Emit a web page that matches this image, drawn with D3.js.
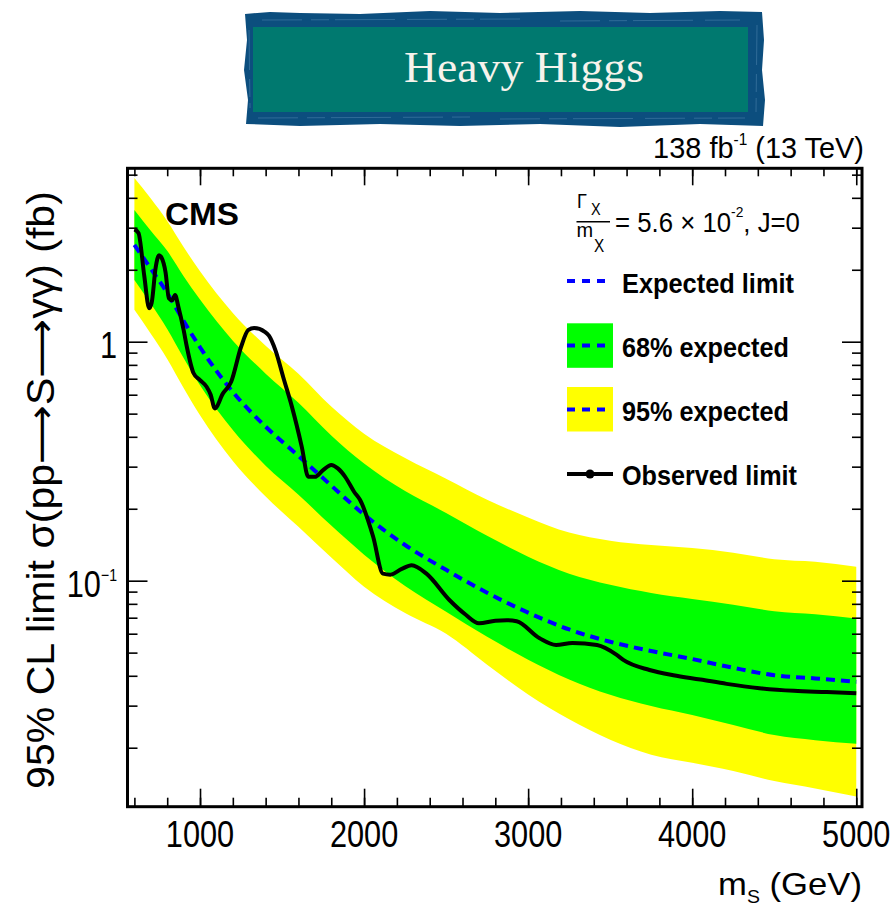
<!DOCTYPE html>
<html>
<head>
<meta charset="utf-8">
<script src="https://cdn.jsdelivr.net/npm/d3@7"></script>
<style>
  html, body { margin: 0; padding: 0; background: #ffffff; }
  svg { display: block; }
</style>
</head>
<body>
<svg id="chart" width="891" height="909"></svg>
<script>
// ---- Expected limit and its 68% / 95% bands (fb), by resonance mass (GeV)
const massPoints    = [600, 700, 800, 900, 1000, 1200, 1400, 1600, 1800, 2000, 2250, 2500, 2750, 3000, 3250, 3500, 3750, 4000, 4250, 4500, 4750, 5000];
const expectedLimit = [2.54, 2.02, 1.60, 1.22, 0.948, 0.616, 0.441, 0.333, 0.250, 0.189, 0.141, 0.111, 0.089, 0.0735, 0.0625, 0.0555, 0.0508, 0.0470, 0.0432, 0.0402, 0.0390, 0.0378];
const band68Upper   = [3.56, 2.91, 2.40, 1.88, 1.50, 1.01, 0.735, 0.555, 0.405, 0.309, 0.237, 0.192, 0.154, 0.126, 0.107, 0.0961, 0.0888, 0.0838, 0.0793, 0.0745, 0.0723, 0.0694];
const band68Lower   = [1.81, 1.44, 1.13, 0.854, 0.657, 0.427, 0.303, 0.229, 0.170, 0.1285, 0.0950, 0.0741, 0.0582, 0.0467, 0.0386, 0.0333, 0.0299, 0.0274, 0.0249, 0.0226, 0.0215, 0.0208];
const band95Upper   = [4.84, 3.97, 3.20, 2.49, 1.97, 1.32, 0.962, 0.734, 0.535, 0.412, 0.326, 0.267, 0.218, 0.184, 0.159, 0.147, 0.141, 0.137, 0.131, 0.123, 0.120, 0.1145];
const band95Lower   = [1.36, 1.08, 0.847, 0.640, 0.492, 0.317, 0.225, 0.168, 0.125, 0.0944, 0.0732, 0.0599, 0.0445, 0.0334, 0.0263, 0.0216, 0.0187, 0.0173, 0.0160, 0.0145, 0.0135, 0.0125];

// ---- Observed limit (fb)
const observedMass  = [600, 625, 660, 690, 705, 730, 750, 765, 790, 810, 830, 848, 868, 900, 920, 960, 1000, 1040, 1065, 1090, 1140, 1190, 1250, 1295, 1330, 1395, 1420, 1460, 1510, 1560, 1620, 1660, 1700, 1750, 1800, 1840, 1885, 1940, 1975, 2055, 2115, 2160, 2230, 2290, 2380, 2520, 2620, 2700, 2800, 2870, 2930, 3070, 3170, 3270, 3420, 3540, 3580, 3740, 3885, 4050, 4210, 4410, 4620, 4820, 5000];
const observedLimit = [2.95, 2.85, 1.89, 1.38, 1.45, 2.05, 2.30, 2.25, 1.95, 1.52, 1.49, 1.57, 1.40, 1.12, 0.95, 0.74, 0.69, 0.648, 0.60, 0.526, 0.608, 0.68, 0.95, 1.12, 1.14, 1.10, 1.06, 0.92, 0.70, 0.535, 0.364, 0.272, 0.272, 0.29, 0.305, 0.295, 0.272, 0.235, 0.218, 0.153, 0.107, 0.106, 0.112, 0.116, 0.107, 0.083, 0.072, 0.0663, 0.0680, 0.0683, 0.0676, 0.0574, 0.0538, 0.0549, 0.0538, 0.0489, 0.0466, 0.0423, 0.0402, 0.0386, 0.0370, 0.0355, 0.0346, 0.0342, 0.0338];

// ---- Axis labels and legend text
const xTickLabels = [1000, 2000, 3000, 4000, 5000];
const yTickLabels = [1, 0.1];
const legendLabels = ["Expected limit", "68% expected", "95% expected", "Observed limit"];

// ---- Layout
const SANS = "'Liberation Sans', Arial, Helvetica, sans-serif";
const SERIF = "'Liberation Serif', 'Times New Roman', serif";
const ARROW_FONT = "'DejaVu Sans', sans-serif";
const frame = { left: 127.5, right: 862, top: 168.3, bottom: 806.7 };
const COL = { yellow: "#ffff00", green: "#00ff00", blue: "#0000ff", black: "#000000" };

const svg = d3.select("#chart");

const x = d3.scaleLinear().domain([558, 5035]).range([frame.left, frame.right]);
const y = d3.scaleLog().domain([0.01133, 5.316]).range([frame.bottom, frame.top]);

// Text helper: places a (possibly multi-part) label and squeezes it horizontally
function addText(parent, o) {
  let tf = `translate(${o.x},${o.y})`;
  if (o.rotate) tf += ` rotate(${o.rotate})`;
  const g = parent.append("g").attr("transform", tf);
  const t = g.append("text")
    .attr("text-anchor", o.anchor || "start")
    .attr("font-family", o.family || SANS)
    .attr("font-size", o.size)
    .attr("font-weight", o.weight || "normal")
    .attr("fill", o.fill || "#000");
  (o.parts || [{ text: o.text }]).forEach(p => {
    const ts = t.append("tspan").text(p.text);
    if (p.size) ts.attr("font-size", p.size);
    if (p.dy) ts.attr("dy", p.dy);
    if (p.family) ts.attr("font-family", p.family);
  });
  let sx = o.sx || 1;
  if (o.width) sx = o.width / t.node().getBBox().width;
  t.attr("transform", `scale(${sx},1)`);
  return t;
}

// ---- Banner
const banner = svg.append("g");
const bannerOutline = [
  [245, 14], [270, 12], [300, 13], [360, 14], [430, 11], [500, 13], [580, 11], [650, 13], [720, 11], [762, 12],
  [764, 40], [762, 70], [765, 100], [763, 126],
  [700, 124], [620, 127], [540, 124], [460, 126], [380, 124], [300, 126], [246, 124],
  [248, 100], [244, 70], [247, 40]
];
banner.append("path")
  .attr("d", d3.line()(bannerOutline) + "Z")
  .attr("fill", "#0c4e7e");
banner.append("rect")
  .attr("x", 253).attr("y", 27).attr("width", 495).attr("height", 85)
  .attr("fill", "#00796f");
// brushed streaks in the border
const streaks = [
  [[262, 20], [520, 19]], [[560, 21], [740, 20]], [[258, 118], [470, 117]], [[500, 119], [745, 118]],
  [[249, 30], [250, 108]], [[757, 25], [756, 112]]
];
streaks.forEach(s => banner.append("path")
  .attr("d", d3.line()(s))
  .attr("stroke", "#3f78a3").attr("stroke-width", 1)
  .attr("stroke-dasharray", "40,9,18,6,60,12").attr("opacity", 0.7).attr("fill", "none"));
addText(banner, { x: 524, y: 82, text: "Heavy Higgs", size: 44, family: SERIF, anchor: "middle", fill: "#f6f3ec", width: 240 });

// ---- Plot area
svg.append("clipPath").attr("id", "plotClip")
  .append("rect")
  .attr("x", frame.left).attr("y", frame.top)
  .attr("width", frame.right - frame.left).attr("height", frame.bottom - frame.top);

const plot = svg.append("g").attr("clip-path", "url(#plotClip)");

const bandRows = massPoints.map((m, i) => ({
  m, exp: expectedLimit[i], lo68: band68Lower[i], hi68: band68Upper[i], lo95: band95Lower[i], hi95: band95Upper[i]
}));

const area95 = d3.area().x(d => x(d.m)).y0(d => y(d.lo95)).y1(d => y(d.hi95)).curve(d3.curveMonotoneX);
const area68 = d3.area().x(d => x(d.m)).y0(d => y(d.lo68)).y1(d => y(d.hi68)).curve(d3.curveMonotoneX);
plot.append("path").datum(bandRows).attr("d", area95).attr("fill", COL.yellow);
plot.append("path").datum(bandRows).attr("d", area68).attr("fill", COL.green);

const expLine = d3.line().x(d => x(d.m)).y(d => y(d.exp)).curve(d3.curveMonotoneX);
plot.append("path").datum(bandRows).attr("d", expLine)
  .attr("fill", "none").attr("stroke", COL.blue).attr("stroke-width", 4)
  .attr("stroke-dasharray", "9,6");

const obsRows = observedMass.map((m, i) => ({ m, v: observedLimit[i] }));
const obsLine = d3.line().x(d => x(d.m)).y(d => y(d.v)).curve(d3.curveMonotoneX);
plot.append("path").datum(obsRows).attr("d", obsLine)
  .attr("fill", "none").attr("stroke", COL.black).attr("stroke-width", 4)
  .attr("stroke-linejoin", "round");

// ---- Frame and inward ticks on all four sides
const axes = svg.append("g");
const xMinor = d3.range(600, 5001, 200);
const yAll = y.ticks();
const isDecade = v => Math.abs(Math.log10(v) - Math.round(Math.log10(v))) < 1e-6;
const yMinor = yAll.filter(v => !isDecade(v));
const yMajor = yAll.filter(isDecade);

function tickAxis(axisGen, tf, size) {
  const g = axes.append("g").attr("transform", tf)
    .call(axisGen.tickSize(size).tickSizeOuter(0).tickFormat(""));
  g.select(".domain").remove();
  g.selectAll("line").attr("stroke", "#000").attr("stroke-width", 1.6);
}
tickAxis(d3.axisBottom(x).tickValues(xMinor), `translate(0,${frame.bottom})`, -9);
tickAxis(d3.axisBottom(x).tickValues(xTickLabels), `translate(0,${frame.bottom})`, -18);
tickAxis(d3.axisTop(x).tickValues(xMinor), `translate(0,${frame.top})`, -8);
tickAxis(d3.axisTop(x).tickValues(xTickLabels), `translate(0,${frame.top})`, -17);
tickAxis(d3.axisLeft(y).tickValues(yMinor), `translate(${frame.left},0)`, -10);
tickAxis(d3.axisLeft(y).tickValues(yMajor), `translate(${frame.left},0)`, -20);
tickAxis(d3.axisRight(y).tickValues(yMinor), `translate(${frame.right},0)`, -10);
tickAxis(d3.axisRight(y).tickValues(yMajor), `translate(${frame.right},0)`, -20);

axes.append("rect")
  .attr("x", frame.left).attr("y", frame.top)
  .attr("width", frame.right - frame.left).attr("height", frame.bottom - frame.top)
  .attr("fill", "none").attr("stroke", "#000").attr("stroke-width", 3);

// ---- Tick labels
const LABEL_SX = 0.83;
xTickLabels.forEach(v => addText(svg, { x: x(v), y: 846.7, text: String(v), size: 37, anchor: "middle", sx: LABEL_SX }));
yTickLabels.forEach(v => {
  const p = Math.round(Math.log10(v));
  const parts = p === 0 ? [{ text: "1" }] : [{ text: "10" }, { text: "\u2212" + Math.abs(p), size: 17, dy: -16 }];
  addText(svg, { x: 117, y: y(v) + 16, parts, size: 37, anchor: "end", sx: LABEL_SX });
});

// ---- Axis titles
addText(svg, {
  x: 862, y: 895, anchor: "end", size: 32, width: 144,
  parts: [{ text: "m" }, { text: "S", size: 18, dy: 8 }, { text: " (GeV)", size: 32, dy: -8 }]
});
addText(svg, {
  x: 54, y: 490, rotate: -90, anchor: "middle", size: 38, width: 598,
  parts: [
    { text: "95% CL limit  \u03c3(pp" },
    { text: "\u27f6", family: ARROW_FONT },
    { text: "S" },
    { text: "\u27f6", family: ARROW_FONT },
    { text: "\u03b3\u03b3) (fb)" }
  ]
});

// ---- Header texts
addText(svg, {
  x: 864, y: 158.3, anchor: "end", size: 30, width: 211,
  parts: [{ text: "138 fb" }, { text: "-1", size: 16, dy: -13 }, { text: " (13 TeV)", size: 30, dy: 13 }]
});
addText(svg, { x: 165, y: 225, text: "CMS", size: 32, weight: "bold", width: 74 });

// width-to-mass ratio
addText(svg, { x: 577, y: 208, text: "\u0393", size: 20, sx: 0.9 });
addText(svg, { x: 591, y: 215, text: "X", size: 17, sx: 0.85 });
svg.append("line").attr("x1", 576.5).attr("x2", 610).attr("y1", 221.7).attr("y2", 221.7)
  .attr("stroke", "#000").attr("stroke-width", 1.5);
addText(svg, { x: 576.5, y: 237, text: "m", size: 21, sx: 0.95 });
addText(svg, { x: 594, y: 251.7, text: "X", size: 18, sx: 0.85 });
addText(svg, {
  x: 615, y: 231.7, size: 28, width: 185,
  parts: [{ text: "= 5.6 \u00d7 10" }, { text: "-2", size: 15, dy: -15 }, { text: ", J=0", size: 28, dy: 15 }]
});

// ---- Legend
const legend = svg.append("g");
const legX0 = 567, legX1 = 613;
const rowY = [281, 345.5, 409.5, 474];
const textBase = [293.3, 356.7, 420.7, 485];
const textW = [172, 167, 167, 175];

legend.append("rect").attr("x", legX0).attr("y", 323.3).attr("width", legX1 - legX0).attr("height", 44.5).attr("fill", COL.green);
legend.append("rect").attr("x", legX0).attr("y", 387).attr("width", legX1 - legX0).attr("height", 44.5).attr("fill", COL.yellow);
[0, 1, 2].forEach(i => legend.append("line")
  .attr("x1", legX0).attr("x2", legX1 - 3).attr("y1", rowY[i]).attr("y2", rowY[i])
  .attr("stroke", COL.blue).attr("stroke-width", 4).attr("stroke-dasharray", "8,7"));
legend.append("line").attr("x1", legX0).attr("x2", legX1).attr("y1", rowY[3]).attr("y2", rowY[3])
  .attr("stroke", COL.black).attr("stroke-width", 4);
legend.append("circle").attr("cx", (legX0 + legX1) / 2).attr("cy", rowY[3]).attr("r", 4.5).attr("fill", COL.black);

legendLabels.forEach((t, i) => addText(legend, { x: 622, y: textBase[i], text: t, size: 27, weight: "bold", width: textW[i] }));
</script>
</body>
</html>
